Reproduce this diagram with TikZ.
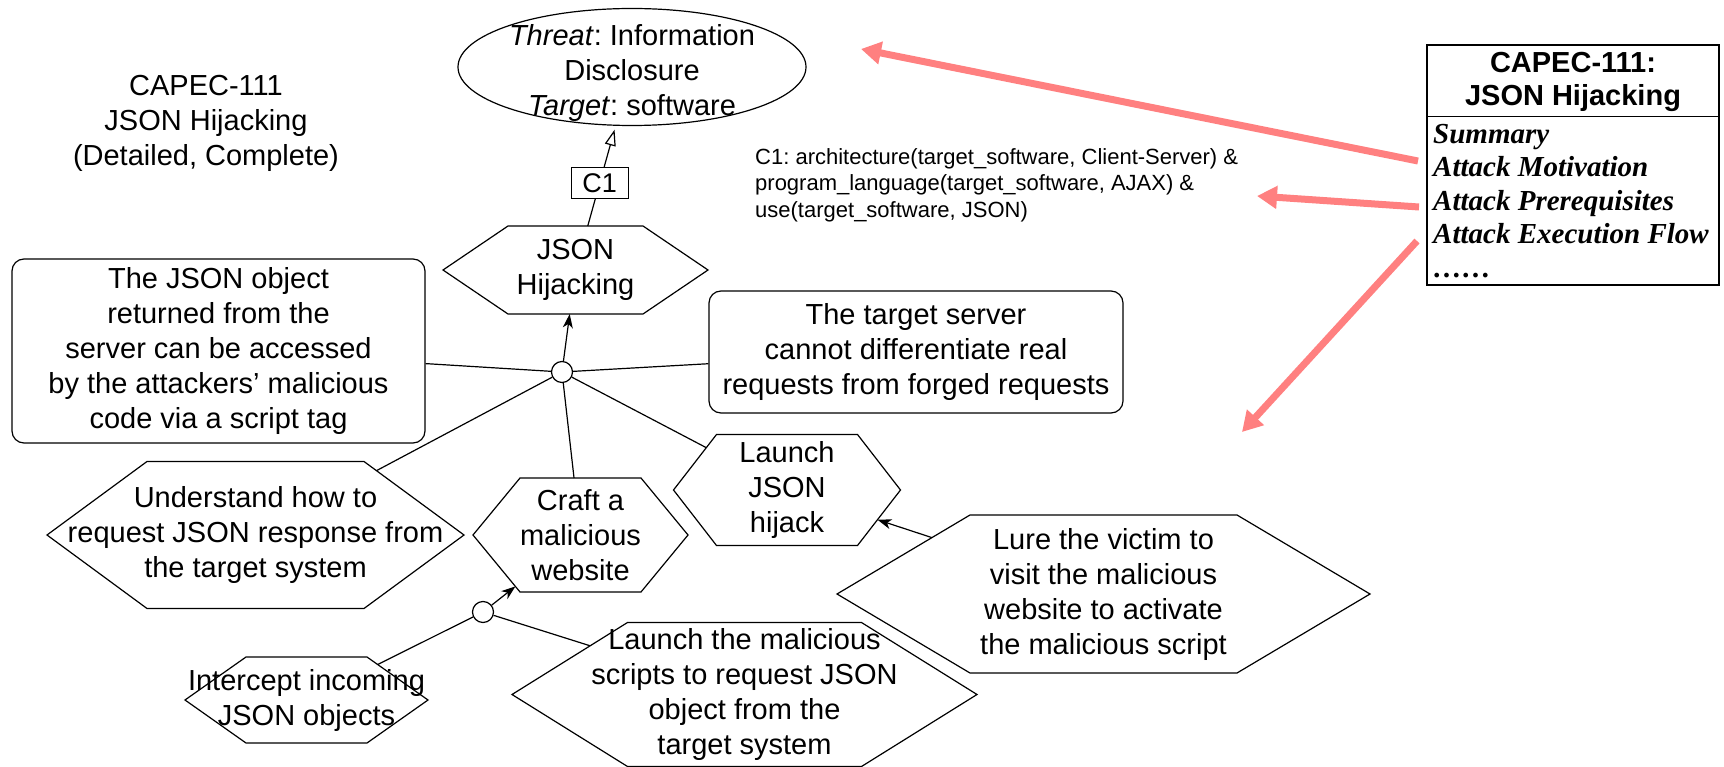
\documentclass[tikz,border=0pt]{standalone}
\usepackage{fontspec}
\setmainfont{Liberation Sans}
\newfontfamily\capecserif{Liberation Serif}
\usetikzlibrary{arrows.meta,shapes.geometric}
\frenchspacing

% A hexagon with flat top and bottom and pointed left/right ends.
% Size comes from minimum width/height, the horizontal cut from "hexa inset".
\makeatletter
\pgfkeys{/pgf/hexa inset/.initial=20pt}
\pgfdeclareshape{hexa}{%
  \savedanchor\hexahalf{%
    \pgfmathsetlength\pgf@x{\pgfkeysvalueof{/pgf/minimum width}}%
    \pgfmathsetlength\pgf@y{\pgfkeysvalueof{/pgf/minimum height}}%
    \pgf@x=.5\pgf@x
    \pgf@y=.5\pgf@y
  }%
  \savedanchor\hexainset{%
    \pgfmathsetlength\pgf@x{\pgfkeysvalueof{/pgf/hexa inset}}%
    \pgf@y=0pt
  }%
  \anchor{center}{\pgfpointorigin}%
  \anchor{text}{%
    \pgf@x=-.5\wd\pgfnodeparttextbox
    \pgf@y=.5\dp\pgfnodeparttextbox
    \advance\pgf@y by -.5\ht\pgfnodeparttextbox
  }%
  \anchor{north}{\hexahalf\pgf@x=0pt}%
  \anchor{south}{\hexahalf\pgf@x=0pt\pgf@y=-\pgf@y}%
  \anchor{east}{\hexahalf\pgf@y=0pt}%
  \anchor{west}{\hexahalf\pgf@x=-\pgf@x\pgf@y=0pt}%
  \anchorborder{%
    \edef\hexa@dx{\pgf@sys@tonumber\pgf@x}%
    \edef\hexa@dy{\pgf@sys@tonumber\pgf@y}%
    \hexahalf
    \edef\hexa@a{\pgf@sys@tonumber\pgf@x}%
    \edef\hexa@b{\pgf@sys@tonumber\pgf@y}%
    \hexainset
    \edef\hexa@c{\pgf@sys@tonumber\pgf@x}%
    \pgfmathparse{max(abs(\hexa@dy)/\hexa@b,(abs(\hexa@dx)+\hexa@c*(abs(\hexa@dy)/\hexa@b))/\hexa@a)}%
    \let\hexa@m\pgfmathresult
    \pgfmathsetlength\pgf@xa{\hexa@dx/\hexa@m}%
    \pgfmathsetlength\pgf@ya{\hexa@dy/\hexa@m}%
    \pgf@x=\pgf@xa
    \pgf@y=\pgf@ya
  }%
  \backgroundpath{%
    \hexahalf
    \edef\hexa@A{\the\pgf@x}%
    \edef\hexa@B{\the\pgf@y}%
    \pgf@xa=\pgf@x
    \hexainset
    \advance\pgf@xa by -\pgf@x
    \edef\hexa@C{\the\pgf@xa}%
    \pgfpathmoveto{\pgfqpoint{-\hexa@A}{0pt}}%
    \pgfpathlineto{\pgfqpoint{-\hexa@C}{\hexa@B}}%
    \pgfpathlineto{\pgfqpoint{\hexa@C}{\hexa@B}}%
    \pgfpathlineto{\pgfqpoint{\hexa@A}{0pt}}%
    \pgfpathlineto{\pgfqpoint{\hexa@C}{-\hexa@B}}%
    \pgfpathlineto{\pgfqpoint{-\hexa@C}{-\hexa@B}}%
    \pgfpathclose
  }%
}
\makeatother

\definecolor{linkred}{RGB}{255,128,128}

\tikzset{
  hexa inset/.code={\pgfkeys{/pgf/hexa inset=#1}},
  txt/.style={font=\fontsize{29}{35}\selectfont, align=center, inner sep=0pt},
  hexbox/.style n args={3}{txt, shape=hexa, draw, fill=white, line width=1.2pt,
    minimum width=#1, minimum height=#2, hexa inset=#3},
  roundbox/.style n args={2}{txt, draw, fill=white, line width=1.2pt,
    rounded corners=12pt, minimum width=#1, minimum height=#2},
  junction/.style={circle, draw, fill=white, line width=1.2pt, minimum size=21pt, inner sep=0pt},
  link/.style={line width=1.2pt},
  refine/.style={link, -{Stealth[length=14pt,width=10pt,inset=4pt]}},
  realize/.style={link, -{Triangle[open,length=16pt,width=11pt]}, shorten >=4pt},
  condbox/.style={draw, fill=white, line width=1.2pt, font=\fontsize{27}{32}\selectfont,
    minimum width=57pt, minimum height=31pt, inner sep=0pt},
  mapping/.style={draw=linkred, line width=7pt, -{Triangle[length=20pt,width=22pt]}},
}

\begin{document}
\begin{tikzpicture}[x=1pt,y=-1pt]
\useasboundingbox (0,0) rectangle (1724,767);

% title
\node[txt] (title) at (206,123) {CAPEC-111\\JSON Hijacking\\(Detailed, Complete)};

% threat at the root
\node[ellipse, draw, line width=1.2pt, minimum width=348pt, minimum height=117pt, inner sep=0pt] (threat) at (632,67) {};
\node[txt] (threattxt) at (632,73) {\textit{Threat}: Information\\Disclosure\\\textit{Target}: software};

% attack goal and its refinement
\node[hexbox={265pt}{88pt}{65pt}] (jh) at (575.5,270) {JSON\\Hijacking};
\node[junction] (and1) at (562,372) {};

\node[roundbox={413pt}{184pt}] (jsonobj) at (218.5,351)
  {The JSON object\\returned from the\\server can be accessed\\by the attackers’ malicious\\code via a script tag};
\node[roundbox={414pt}{122pt}] (server) at (916,352)
  {The target server\\cannot differentiate real\\requests from forged requests};

\node[hexbox={417pt}{147pt}{100pt}] (understand) at (255.5,535)
  {Understand how to\\request JSON response from\\the target system};
\node[hexbox={215pt}{114pt}{47pt}] (craft) at (580.5,535) {Craft a\\malicious\\website};
\node[hexbox={227pt}{111pt}{43pt}] (launch) at (787,490) {Launch\\JSON\\hijack};
\node[hexbox={533pt}{158pt}{133pt}] (lure) at (1103.5,594)
  {Lure the victim to\\visit the malicious\\website to activate\\the malicious script};

\node[junction] (and2) at (483,612) {};
\node[hexbox={243pt}{86pt}{61pt}] (intercept) at (306.5,700) {Intercept incoming\\JSON objects};
\node[hexbox={465pt}{144pt}{115.5pt}] (scripts) at (744.5,694.5)
  {Launch the malicious\\scripts to request JSON\\object from the\\target system};

% connectors
\draw[realize] (jh) -- node[condbox, pos=0.43] (c1) {C1} (threat);
\draw[refine] (and1) -- (jh);
\draw[link] (and1) -- (jsonobj);
\draw[link] (and1) -- (server);
\draw[link] (and1) -- (understand);
\draw[link] (and1) -- (craft);
\draw[link] (and1) -- (launch);
\draw[refine] (lure) -- (launch);
\draw[refine] (and2) -- (craft);
\draw[link] (and2) -- (intercept);
\draw[link] (and2) -- (scripts);

% condition text
\node[font=\fontsize{22}{26.5}\selectfont, align=left, anchor=west, inner sep=0pt] (cond) at (755,185)
  {C1: architecture(target\_software, Client-Server) \&\\program\_language(target\_software, AJAX) \&\\use(target\_software, JSON)};

% CAPEC entry
\node[draw, line width=1.2pt, minimum width=292pt, minimum height=240pt, inner sep=0pt] (capec) at (1573,165) {};
\draw[line width=1.2pt] (capec.north west) ++(0,72) coordinate (capecdiv) -- ++(292,0);
\node[font=\bfseries\fontsize{29}{33}\selectfont, align=center, inner sep=0pt] (capectitle) at (1573,82)
  {CAPEC-111:\\JSON Hijacking};
\node[font=\capecserif\bfseries\itshape\fontsize{29}{33.5}\selectfont, align=left, anchor=north west, inner sep=0pt] (capecitems) at (1433,124)
  {Summary\\Attack Motivation\\Attack Prerequisites\\Attack Execution Flow\\……};

% mappings from the CAPEC fields
\coordinate (m1s) at (1418,161);
\coordinate (m1e) at (861,49);
\coordinate (m2s) at (1419,207);
\coordinate (m2e) at (1257,196);
\coordinate (m3s) at (1417,241);
\coordinate (m3e) at (1242,432);
\draw[mapping] (m1s) -- (m1e);
\draw[mapping] (m2s) -- (m2e);
\draw[mapping] (m3s) -- (m3e);
\end{tikzpicture}
\end{document}
